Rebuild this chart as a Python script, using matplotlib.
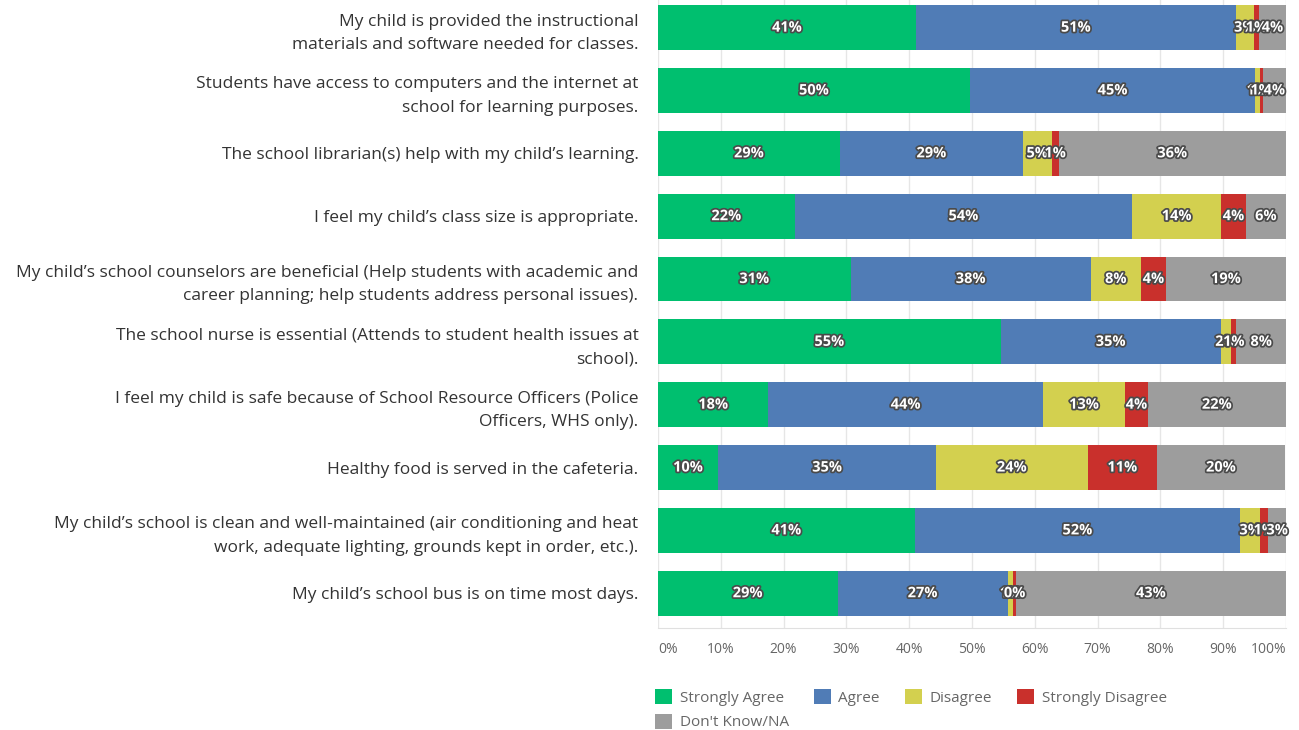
import matplotlib; matplotlib.use('Agg')
import matplotlib.pyplot as plt
import matplotlib.patheffects as pe
from matplotlib.patches import Patch
import numpy as np

plt.rcParams['font.family'] = ['Open Sans', 'DejaVu Sans']

questions = [
    'My child is provided the instructional\nmaterials and software needed for classes.',
    'Students have access to computers and the internet at\nschool for learning purposes.',
    'The school librarian(s) help with my child\u2019s learning.',
    'I feel my child\u2019s class size is appropriate.',
    'My child\u2019s school counselors are beneficial (Help students with academic and\ncareer planning; help students address personal issues).',
    'The school nurse is essential (Attends to student health issues at\nschool).',
    'I feel my child is safe because of School Resource Officers (Police\nOfficers, WHS only).',
    'Healthy food is served in the cafeteria.',
    'My child\u2019s school is clean and well-maintained (air conditioning and heat\nwork, adequate lighting, grounds kept in order, etc.).',
    'My child\u2019s school bus is on time most days.',
]
categories = ['Strongly Agree', 'Agree', 'Disagree', 'Strongly Disagree', "Don't Know/NA"]
colors = ['#00BF6F', '#507CB6', '#D3D04F', '#C9302C', '#9D9D9D']

strongly_agree    = [41.1, 49.7, 29.0, 21.8, 30.7, 54.6, 17.6, 9.6, 40.9, 28.6]
agree             = [50.9, 45.4, 29.1, 53.7, 38.2, 35.0, 43.7, 34.7, 51.8, 27.1]
disagree          = [2.9, 0.7, 4.6, 14.2, 8.0, 1.7, 13.1, 24.1, 3.2, 0.9]
strongly_disagree = [0.8, 0.5, 1.1, 3.9, 4.0, 0.8, 3.6, 11.1, 1.3, 0.4]
dont_know         = [4.3, 3.7, 36.2, 6.4, 19.1, 7.9, 22.0, 20.3, 2.8, 43.0]
series = [strongly_agree, agree, disagree, strongly_disagree, dont_know]

fig = plt.figure(figsize=(12.99, 7.30), dpi=100)
ax = fig.add_axes([0.5065, 0.140, 0.4835, 0.860])

y = np.arange(len(questions))
left = np.zeros(len(questions))
fx = [pe.withStroke(linewidth=2.5, foreground='#4a4a4a')]
for vals, col in zip(series, colors):
    vals = np.array(vals)
    ax.barh(y, vals, left=left, height=0.715, color=col, zorder=2)
    for i, v in enumerate(vals):
        ax.text(left[i] + v / 2, i, f'{int(v + 0.5)}%', ha='center', va='center',
                fontsize=10.5, fontweight='bold', color='white', path_effects=fx, zorder=3)
    left += vals

ax.set_xlim(0, 100)
ax.set_ylim(9.55, -0.44)
ax.set_yticks(y)
ax.set_yticklabels(questions, fontsize=12.5, color='#333333', linespacing=1.6)
ax.tick_params(axis='y', length=0, pad=14)
ax.set_xticks(np.arange(0, 101, 10))
ax.set_xticklabels([f'{t}%' for t in range(0, 101, 10)], fontsize=10, color='#666666')
ax.tick_params(axis='x', length=0, pad=10)
xt = ax.get_xticklabels()
xt[0].set_ha('left')
xt[-1].set_ha('right')
ax.grid(axis='x', color='#e6e6e6', lw=1, zorder=0)
for s in ['top', 'right', 'left']:
    ax.spines[s].set_visible(False)
ax.spines['bottom'].set_color('#e0e0e0')

handles = [Patch(facecolor=c, label=l) for c, l in zip(colors, categories)]
order = [0, 4, 1, 2, 3]
fig.legend([handles[i] for i in order], [categories[i] for i in order],
           loc='upper left', bbox_to_anchor=(0.4985, 0.066), ncol=4, frameon=False,
           fontsize=11, labelcolor='#666666', handlelength=1.1, handleheight=1.1,
           handletextpad=0.5, columnspacing=1.65, labelspacing=0.52, borderpad=0)

fig.savefig('out.png', dpi=100)
